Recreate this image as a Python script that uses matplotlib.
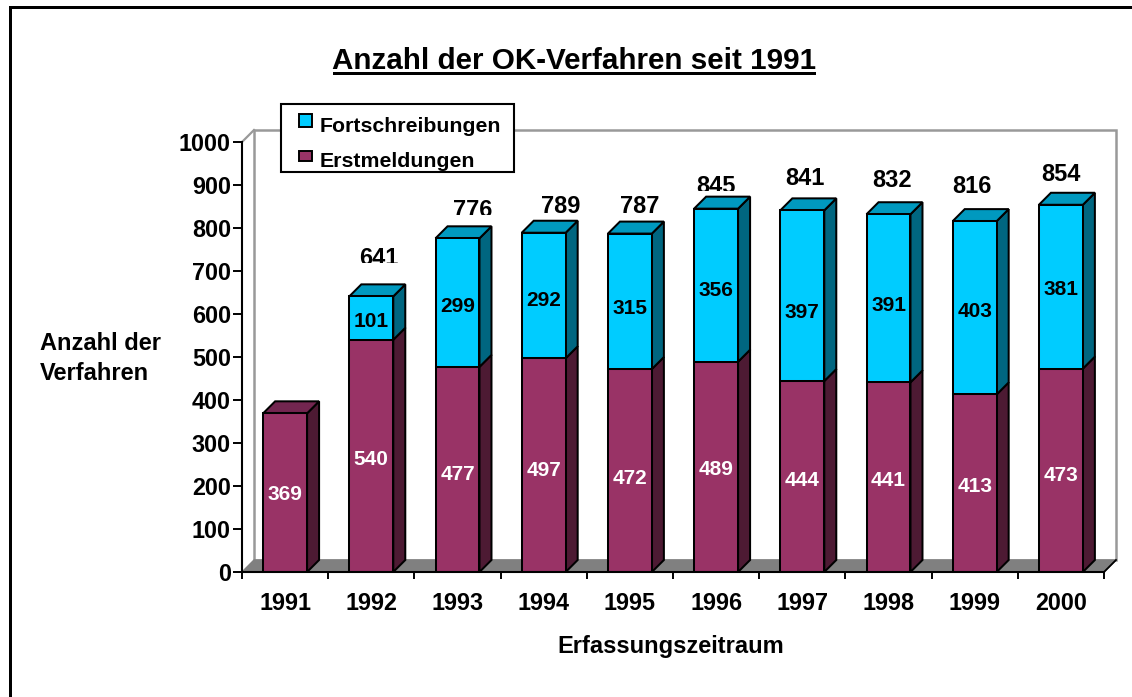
"""Anzahl der OK-Verfahren seit 1991 - stacked bars with a drawn 3D look."""

import matplotlib
matplotlib.use("Agg")
import matplotlib.pyplot as plt
from matplotlib.patches import Polygon, Rectangle
from matplotlib.transforms import Bbox

plt.rcParams['font.family'] = ['Liberation Sans', 'DejaVu Sans']
plt.rcParams['font.weight'] = 'bold'

# Data
YEARS = ['1991', '1992', '1993', '1994', '1995', '1996', '1997', '1998', '1999', '2000']
ERSTMELDUNGEN = [369, 540, 477, 497, 472, 489, 444, 441, 413, 473]
FORTSCHREIBUNGEN = [0, 101, 299, 292, 315, 356, 397, 391, 403, 381]
TOTALS = [369, 641, 776, 789, 787, 845, 841, 832, 816, 854]

# Label nudges in pixels, the original chart has them hand placed
TOTAL_DX = [0, 8, 15, 17, 10, 0, 3, 4, -3, 0]
TOTAL_DY = [0, 31, 21, 20, 21, 16, 25, 27, 28, 24]
LOWER_DY = [-2, -4, -5, -5, -8, -3, -4, -3, -3, -5]
UPPER_DY = [0, -3, -4, -5, -7, -5, -17, -7, -4, -3]
CUT_AT = {1: 263, 2: 215, 5: 191}  # labels cut off below this pixel row

W, H = 1132, 697
DEPTH_PX = 12
MAGENTA = ('#993366', '#732650', '#4d1a33')
CYAN = ('#00ccff', '#0099bf', '#006680')
BAR_WIDTH = 0.51

fig = plt.figure(figsize=(W / 100, H / 100), dpi=100, facecolor='white')
ax = fig.add_axes([242 / W, (H - 572) / H, 862 / W, 430 / H])
ax.set_xlim(0, 10)
ax.set_ylim(0, 1000)
ax.patch.set_visible(False)

dx = DEPTH_PX / 86.2
dy = DEPTH_PX / 0.43


def face(points, color, z, edge='black', lw=1.45):
    ax.add_patch(Polygon(points, closed=True, facecolor=color, edgecolor=edge,
                         linewidth=lw, joinstyle='miter', clip_on=False, zorder=z))


def fig_rect(x0, y0, x1, y1, color, edge='none', lw=0):
    # pixel box measured from the top left of the image
    fig.add_artist(Rectangle((x0 / W, (H - y1) / H), (x1 - x0) / W, (y1 - y0) / H,
                             transform=fig.transFigure, facecolor=color,
                             edgecolor=edge, linewidth=lw))


# Walls and floor
face([(dx, dy), (10 + dx, dy), (10 + dx, 1000 + dy), (dx, 1000 + dy)], 'white', 1, '#999999', 1.8)
ax.plot([0, dx], [1000, 1000 + dy], color='#999999', lw=1.6, clip_on=False, zorder=1)
face([(0, 0), (10, 0), (10 + dx, dy), (dx, dy)], '#808080', 2, '#808080', 1)
ax.plot([10, 10 + dx], [0, dy], color='black', lw=1.3, clip_on=False, zorder=2)

# Bars
centers = [i + 0.5 for i in range(len(YEARS))]
for i, c in enumerate(centers):
    low = ERSTMELDUNGEN[i]
    up = FORTSCHREIBUNGEN[i]
    l, r = c - BAR_WIDTH / 2, c + BAR_WIDTH / 2
    face([(r, 0), (r + dx, dy), (r + dx, low + dy), (r, low)], MAGENTA[2], 3)
    if up > 0:
        face([(r, low), (r + dx, low + dy), (r + dx, low + up + dy), (r, low + up)], CYAN[2], 3)
        top_color = CYAN[1]
    else:
        top_color = MAGENTA[1]
    top = low + up
    face([(l, top), (r, top), (r + dx, top + dy), (l + dx, top + dy)], top_color, 3)

ax.bar(centers, ERSTMELDUNGEN, width=BAR_WIDTH, color=MAGENTA[0], edgecolor='black',
       linewidth=1.45, zorder=4)
ax.bar(centers, FORTSCHREIBUNGEN, bottom=ERSTMELDUNGEN, width=BAR_WIDTH, color=CYAN[0],
       edgecolor='black', linewidth=1.45, zorder=4)

# Value labels
for i, c in enumerate(centers):
    low = ERSTMELDUNGEN[i]
    up = FORTSCHREIBUNGEN[i]
    ax.annotate(str(low), (c, low / 2), xytext=(0, LOWER_DY[i]), textcoords='offset pixels',
                ha='center', va='center', fontsize=15, color='white', zorder=6)
    if up > 0:
        ax.annotate(str(up), (c, low + up / 2), xytext=(0, UPPER_DY[i]), textcoords='offset pixels',
                    ha='center', va='center', fontsize=15, color='black', zorder=6)
        t = ax.annotate(str(TOTALS[i]), (c, TOTALS[i]), xytext=(TOTAL_DX[i], TOTAL_DY[i]),
                        textcoords='offset pixels', ha='center', va='baseline',
                        fontsize=17, color='black', zorder=6)
        if i in CUT_AT:
            t.set_clip_box(Bbox([[0, H - CUT_AT[i]], [W, H]]))
            t.set_clip_on(True)

# Axes
for side in ['top', 'right']:
    ax.spines[side].set_visible(False)
for side in ['left', 'bottom']:
    ax.spines[side].set_linewidth(1.5)
    ax.spines[side].set_zorder(5)
ax.set_yticks(range(0, 1001, 100))
ax.tick_params(axis='y', which='major', length=6.5, width=1.4, pad=1.5, labelsize=16.8)
ax.set_xticks(range(0, 11))
ax.set_xticklabels([])
ax.set_xticks(centers, minor=True)
ax.set_xticklabels(YEARS, minor=True)
ax.tick_params(axis='x', which='major', length=5, width=1.4)
ax.tick_params(axis='x', which='minor', length=0, pad=14.2, labelsize=16.8)

# Legend box, measured by hand because its padding is uneven
fig_rect(281, 104, 514, 172, 'white', 'black', 1.5)
fig_rect(299, 114, 312, 127, CYAN[0], 'black', 1.4)
fig_rect(299, 151, 312, 161, MAGENTA[0], 'black', 1.4)
fig.text(320 / W, (H - 132) / H, 'Fortschreibungen', ha='left', va='baseline', fontsize=15.3)
fig.text(320 / W, (H - 167) / H, 'Erstmeldungen', ha='left', va='baseline', fontsize=15.3)

# Figure texts
fig.text(574.5 / W, (H - 69) / H, 'Anzahl der OK-Verfahren seit 1991', ha='center', va='baseline',
         fontsize=21.3, color='black')
fig_rect(333, 71.5, 816, 74.5, 'black')
fig.text(671 / W, (H - 646) / H, 'Erfassungszeitraum', ha='center', va='center', fontsize=17)
fig.text(40 / W, (H - 343) / H, 'Anzahl der', ha='left', va='center', fontsize=17)
fig.text(40 / W, (H - 373) / H, 'Verfahren', ha='left', va='center', fontsize=17)

# Slide frame, only top and left are inside the crop
fig_rect(9, 6, 12, H, 'black')
fig_rect(9, 6, W, 9, 'black')

fig.savefig('out.png', dpi=100, facecolor='white')
plt.close(fig)
